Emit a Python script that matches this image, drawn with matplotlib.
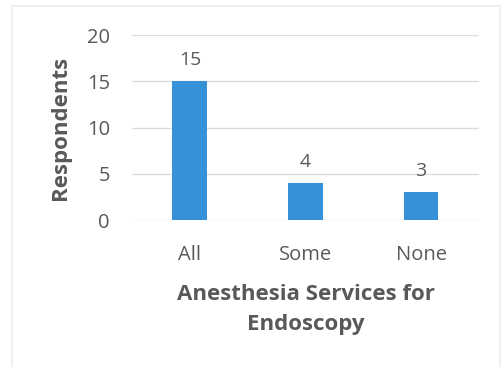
import matplotlib.pyplot as plt
from matplotlib.patches import Rectangle

categories = ["All", "Some", "None"]
respondents = [15, 4, 3]
yticks = [0, 5, 10, 15, 20]

plt.rcParams["font.family"] = ["Open Sans", "DejaVu Sans"]
TXT = "#595959"

fig = plt.figure(figsize=(5.02, 3.67), dpi=100)
ax = fig.add_axes([0.263, 0.4005, 0.691, 0.5041])

# faint scan border
fig.patches.append(Rectangle((0.024, -0.1), 0.972, 1.085, transform=fig.transFigure,
                             fill=False, edgecolor="#ececec", linewidth=1.2))

x = range(len(categories))
bars = ax.bar(x, respondents, width=0.30, color="#3592d8", zorder=3)
for b, v in zip(bars, respondents):
    ax.text(b.get_x() + b.get_width() / 2, v + 1.3, str(v), ha="center",
            va="bottom", fontsize=14, color=TXT)

ax.set_xlim(-0.5, len(categories) - 0.5)
ax.set_ylim(0, 20)
ax.set_yticks(yticks)
ax.set_xticks(list(x))
ax.set_xticklabels(categories)
ax.tick_params(axis="both", length=0, labelsize=14.5, labelcolor=TXT)
ax.tick_params(axis="x", pad=18)
ax.tick_params(axis="y", pad=16)
ax.yaxis.grid(True, color="#dcdcdc", linewidth=1, zorder=0)
for s in ax.spines.values():
    s.set_visible(False)

ax.set_ylabel("Respondents", fontsize=16, fontweight="bold", color=TXT, labelpad=11)
ax.set_xlabel("Anesthesia Services for\nEndoscopy", fontsize=16,
              fontweight="bold", color=TXT, labelpad=14, linespacing=1.55)

fig.savefig("out.png", dpi=100)
